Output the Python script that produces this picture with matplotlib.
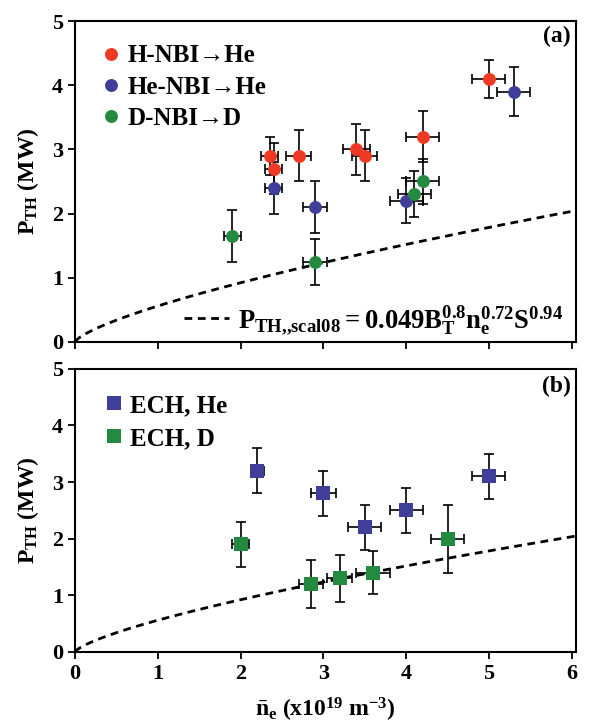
import numpy as np
import matplotlib
matplotlib.use("Agg")
import matplotlib.pyplot as plt
from matplotlib.lines import Line2D

plt.rcParams["font.family"] = ["Liberation Serif", "DejaVu Serif"]
plt.rcParams["font.weight"] = "bold"
plt.rcParams["mathtext.fontset"] = "custom"
plt.rcParams["mathtext.rm"] = "Liberation Serif:bold"
plt.rcParams["mathtext.it"] = "Liberation Serif:bold"
plt.rcParams["mathtext.bf"] = "Liberation Serif:bold"

# (a) NBI data: density, threshold power, x error, y error
h_ne = [2.35, 2.4, 2.7, 3.4, 3.5, 4.2, 5.0]
h_p = [2.9, 2.7, 2.9, 3.0, 2.9, 3.2, 4.1]
h_xe = [0.1, 0.1, 0.15, 0.16, 0.15, 0.2, 0.2]
h_ye = [0.3, 0.4, 0.4, 0.4, 0.4, 0.4, 0.3]

he_ne = [2.4, 2.9, 4.0, 5.3]
he_p = [2.4, 2.1, 2.2, 3.9]
he_xe = [0.1, 0.15, 0.2, 0.2]
he_ye = [0.4, 0.4, 0.35, 0.38]

d_ne = [1.9, 2.9, 4.1, 4.2]
d_p = [1.65, 1.25, 2.3, 2.5]
d_xe = [0.1, 0.15, 0.2, 0.2]
d_ye = [0.4, 0.36, 0.36, 0.35]

# (b) ECH data
eche_ne = [2.2, 3.0, 3.5, 4.0, 5.0]
eche_p = [3.2, 2.8, 2.2, 2.5, 3.1]
eche_xe = [0.08, 0.15, 0.2, 0.2, 0.2]
eche_ye = [0.4, 0.4, 0.4, 0.4, 0.4]

echd_ne = [2.0, 2.85, 3.2, 3.6, 4.5]
echd_p = [1.9, 1.2, 1.3, 1.4, 2.0]
echd_xe = [0.1, 0.15, 0.15, 0.2, 0.2]
echd_ye = [0.4, 0.42, 0.42, 0.38, 0.6]

# scaling curve, P = coef * ne^0.72 for this device
scal_coef = 0.56
scal_exp = 0.72

red = "#ee3a24"
blue = "#3f3f99"
green = "#248a3f"

fig = plt.figure(figsize=(6.07, 7.26), dpi=100)
ax1 = fig.add_axes([0.1236, 0.529, 0.825, 0.442])
ax2 = fig.add_axes([0.1236, 0.102, 0.825, 0.390])

ne_line = np.linspace(0, 6.05, 200)
p_line = scal_coef * ne_line ** scal_exp
dash_style = dict(color="black", lw=2.0, dashes=(2.8, 2.0))

def points(ax, x, y, xe, ye, color, marker, label):
    ax.errorbar(x, y, xerr=xe, yerr=ye, fmt="none", ecolor="black",
                elinewidth=1.2, capsize=3.8, capthick=1.2, zorder=2)
    ax.plot(x, y, linestyle="none", marker=marker, color=color,
            markersize=9.3 if marker == "o" else 9.5, markeredgewidth=0,
            label=label, zorder=3)

points(ax1, h_ne, h_p, h_xe, h_ye, red, "o", "H-NBI\u2192He")
points(ax1, he_ne, he_p, he_xe, he_ye, blue, "o", "He-NBI\u2192He")
points(ax1, d_ne, d_p, d_xe, d_ye, green, "o", "D-NBI\u2192D")
ax1.plot(ne_line, p_line, zorder=1, **dash_style)

points(ax2, eche_ne, eche_p, eche_xe, eche_ye, blue, "s", "ECH, He")
points(ax2, echd_ne, echd_p, echd_xe, echd_ye, green, "s", "ECH, D")
ax2.plot(ne_line, p_line, zorder=1, **dash_style)

for ax in (ax1, ax2):
    ax.set_xlim(0, 6.05)
    ax.set_ylim(0, 5)
    ax.set_xticks(range(7))
    ax.set_yticks(range(6))
    for s in ax.spines.values():
        s.set_linewidth(1.5)
    ax.tick_params(direction="out", length=5, width=1.3, labelsize=16)
    for t in ax.get_xticklabels() + ax.get_yticklabels():
        t.set_fontweight("bold")
    ax.set_ylabel(r"$\mathregular{P_{TH}}$ (MW)", fontsize=17,
                  fontweight="bold", labelpad=8)

leg_kw = dict(loc="upper left", frameon=False, handlelength=0.5,
              handletextpad=0.4, borderaxespad=0.2, numpoints=1,
              prop={"weight": "bold", "size": 18})
leg1 = ax1.legend(labelspacing=0.33, borderpad=0.6,
                  bbox_to_anchor=(0.02, 0.99), **leg_kw)
ax2.legend(labelspacing=0.4, borderpad=0.7,
           bbox_to_anchor=(0.02, 0.99), **leg_kw)

# legend for the scaling law curve
scal_handle = Line2D([], [], **dash_style)
scal_label = r"$\mathregular{P_{TH{,}{,}scal08} = 0.049B_T^{0.8}n_e^{0.72}S^{0.94}}$"
ax1.legend([scal_handle], [scal_label], loc="lower right", frameon=False,
           handlelength=1.7, handletextpad=0.35, borderaxespad=0.0,
           borderpad=0.2, bbox_to_anchor=(0.986, 0.0),
           prop={"weight": "bold", "size": 19.2})
ax1.add_artist(leg1)

ax1.tick_params(labelbottom=False)
ax1.text(0.99, 0.985, "(a)", transform=ax1.transAxes, ha="right", va="top",
         fontsize=17, fontweight="bold")
ax2.text(0.99, 0.975, "(b)", transform=ax2.transAxes, ha="right", va="top",
         fontsize=17, fontweight="bold")

ax2.set_xlabel(r"$\mathregular{\bar{n}_e}$ (x10$^{\mathregular{19}}$ m$^{\mathregular{-3}}$)",
               fontsize=17, fontweight="bold", labelpad=9)

fig.savefig("out.png", dpi=100)
